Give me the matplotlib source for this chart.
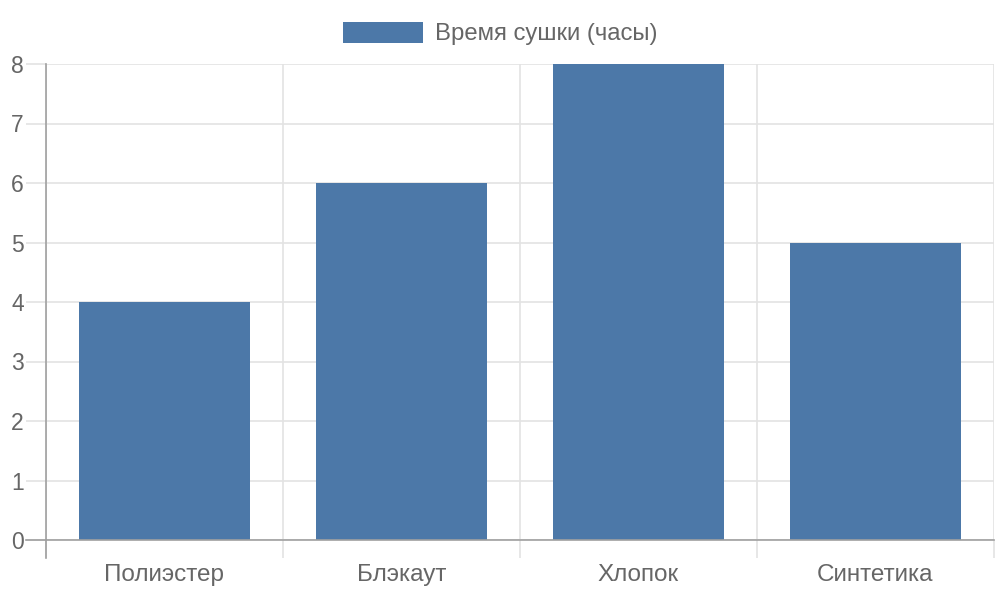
import matplotlib
matplotlib.use("Agg")
import matplotlib.pyplot as plt
from matplotlib.patches import Patch

# data
categories = ["Полиэстер", "Блэкаут", "Хлопок", "Синтетика"]
drying_hours = [4, 6, 8, 5]
series_label = "Время сушки (часы)"

plt.rcParams['font.family'] = ['Liberation Sans', 'DejaVu Sans']
bar_color = '#4c78a8'
text_color = '#666666'
grid_color = '#e3e3e3'
axis_color = '#a0a0a0'

fig = plt.figure(figsize=(10, 6), dpi=100)
ax = fig.add_axes([0.046, 0.1, 0.948, 476 / 600])

x = list(range(len(categories)))
ax.bar(x, drying_hours, width=0.72, color=bar_color, zorder=2)

ax.set_xlim(-0.5, len(categories) - 0.5)
ax.set_ylim(0, 8)

# grid
ax.set_yticks(range(0, 9))
ax.set_xticks(x)
ax.set_xticklabels(categories)
ax.set_xticks([i - 0.5 for i in range(len(categories) + 1)], minor=True)
ax.grid(axis='y', which='major', color=grid_color, lw=1.2, zorder=0)
ax.grid(axis='x', which='minor', color=grid_color, lw=1.2, zorder=0)
ax.grid(axis='x', which='major', visible=False)

ax.tick_params(axis='y', length=14.4, color=grid_color, width=1.2,
               labelsize=16.5, labelcolor=text_color, pad=1.5)
ax.tick_params(axis='x', which='major', length=0, labelsize=17.5,
               labelcolor=text_color, pad=17.5)
ax.tick_params(axis='x', which='minor', length=13, color=grid_color, width=1.2)

for s in ['top', 'right']:
    ax.spines[s].set_visible(False)
for s in ['left', 'bottom']:
    ax.spines[s].set_color(axis_color)
    ax.spines[s].set_linewidth(1.2)

# axis lines extending into tick area
ax.plot([0, 0], [0, -18 / 476], transform=ax.transAxes, clip_on=False,
        color=axis_color, lw=1.2, zorder=3)
ax.plot([-20 / 948, 0], [0, 0], transform=ax.transAxes, clip_on=False,
        color=axis_color, lw=1.2, zorder=3)

handle = Patch(facecolor=bar_color, edgecolor='none')
fig.legend([handle], [series_label], loc='center', bbox_to_anchor=(0.5, 0.944),
           frameon=False, borderpad=0, fontsize=17.2, labelcolor=text_color,
           handlelength=3.35, handleheight=0.96, handletextpad=0.5)

fig.savefig('out.png', dpi=100)
